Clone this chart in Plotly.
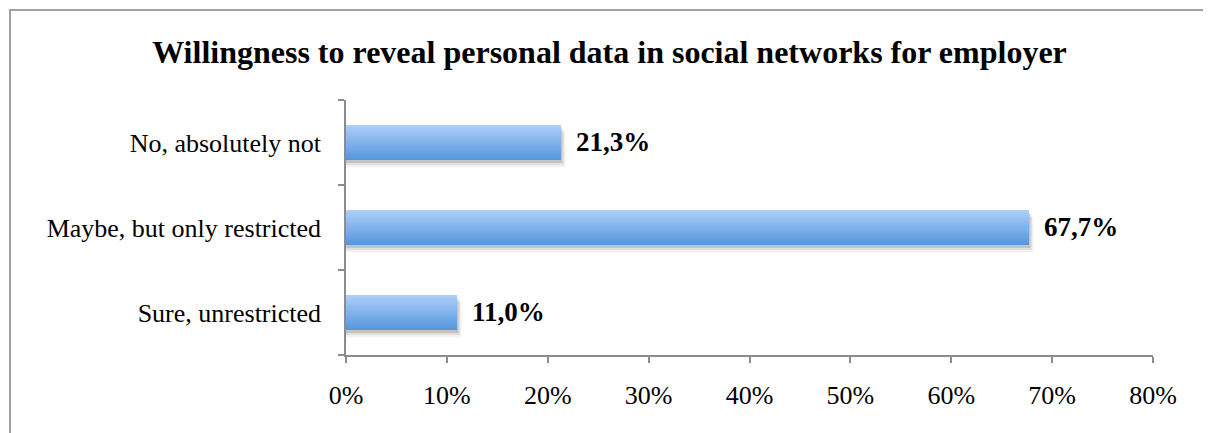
import plotly.graph_objects as go

categories = ["Sure, unrestricted", "Maybe, but only restricted", "No, absolutely not"]
values = [11.0, 67.7, 21.3]
value_labels = ["11,0%", "67,7%", "21,3%"]
tick_vals = [0, 10, 20, 30, 40, 50, 60, 70, 80]
tick_text = ["0%", "10%", "20%", "30%", "40%", "50%", "60%", "70%", "80%"]
title_text = "Willingness to reveal personal data in social networks for employer"

FONT = "Liberation Serif, Times New Roman, serif"
fig = go.Figure()

bar_w = 0.41
# soft shadow (layered)
for dx, dy, a in [(0.45, 0.085, 0.05), (0.3, 0.06, 0.08), (0.15, 0.035, 0.12)]:
    fig.add_trace(go.Bar(
        y=categories, x=[v + dx for v in values], orientation="h",
        width=bar_w, offset=-bar_w / 2 - dy,
        marker=dict(color="rgba(0,0,0,%.2f)" % a, line=dict(width=0)),
        hoverinfo="skip", showlegend=False))

# vertical gradient built from stacked slices of the same bar
n = 30
top = (172, 206, 251)
bot = (86, 151, 220)
sw = bar_w / n
for i in range(n):
    t = i / (n - 1)
    c = tuple(round(bot[k] + (top[k] - bot[k]) * t) for k in range(3))
    w = sw * 2 if i < n - 1 else sw
    fig.add_trace(go.Bar(
        y=categories, x=values, orientation="h",
        width=w, offset=-bar_w / 2 + i * sw,
        marker=dict(color="rgb(%d,%d,%d)" % c, line=dict(width=0)),
        hoverinfo="skip", showlegend=False))

for cat, v, lab in zip(categories, values, value_labels):
    fig.add_annotation(x=v, y=cat, text="<b>%s</b>" % lab, showarrow=False,
                       xanchor="left", yanchor="middle", xshift=13, yshift=1,
                       font=dict(family=FONT, size=27, color="black"))

W, H = 1203, 425
fig.update_layout(
    width=W, height=H,
    margin=dict(l=338, r=58, t=92, b=78),
    paper_bgcolor="white", plot_bgcolor="white",
    barmode="overlay",
    title=dict(text="<b>%s</b>" % title_text, x=0.5, xanchor="center",
               y=1 - 44 / H, yanchor="middle",
               font=dict(family=FONT, size=32, color="black")),
    font=dict(family=FONT, color="black"),
    showlegend=False,
)
fig.update_xaxes(range=[0, 80], tickvals=tick_vals, ticktext=tick_text,
                 showgrid=False, zeroline=False, showline=True,
                 linecolor="#8c8c8c", linewidth=1.5,
                 ticks="outside", ticklen=6, tickcolor="#8c8c8c", tickwidth=1.5,
                 tickfont=dict(family=FONT, size=26, color="black"),
                 ticklabelstandoff=10, fixedrange=True)
fig.update_yaxes(type="category", categoryorder="array", categoryarray=categories,
                 showgrid=False, zeroline=False, showline=True,
                 linecolor="#8c8c8c", linewidth=1.5,
                 ticks="outside", ticklen=6, tickcolor="#8c8c8c", tickwidth=1.5,
                 tickson="boundaries",
                 tickfont=dict(family=FONT, size=26, color="black"),
                 ticklabelstandoff=18, fixedrange=True)

# outer chart frame
pw, ph = W - 338 - 58, H - 92 - 78
fig.add_shape(type="rect", xref="paper", yref="paper",
              x0=(2 - 338) / pw, x1=(1197 - 338) / pw,
              y0=(347 - 440) / ph, y1=(347 - 2) / ph,
              line=dict(color="#a0a0a0", width=2), fillcolor="rgba(0,0,0,0)",
              layer="below")

fig.write_html("out.html")
